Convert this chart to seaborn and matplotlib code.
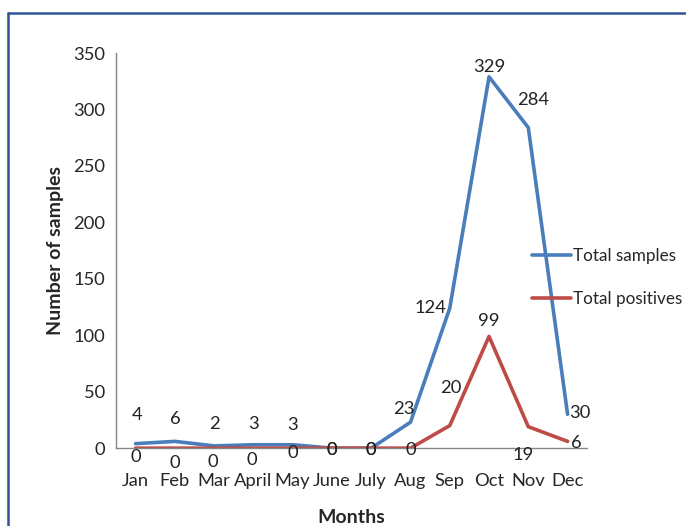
import matplotlib
matplotlib.use('Agg')
import matplotlib.pyplot as plt
import seaborn as sns
import pandas as pd
from matplotlib.lines import Line2D

months = ['Jan', 'Feb', 'Mar', 'April', 'May', 'June', 'July', 'Aug', 'Sep', 'Oct', 'Nov', 'Dec']
total_samples = [4, 6, 2, 3, 3, 0, 0, 23, 124, 329, 284, 30]
total_positives = [0, 0, 0, 0, 0, 0, 0, 0, 20, 99, 19, 6]
yticks = [0, 50, 100, 150, 200, 250, 300, 350]

# label offsets in pixels (dx, dy), copied by eye from the excel chart
samp_off = [(2, 29), (0, 22), (0, 22), (0, 21), (0, 20), (0, -2), (0, -2),
            (-7, 13), (-19, 0), (0, 10), (5, 28), (12, 1)]
pos_off = [(0, -9), (0, -15), (-1, -14), (-2, -12), (0, -5), (0, -2), (0, -2),
           (0, -2), (1, 38), (0, 15), (-5, -28), (9, -2)]

sns.set_style('white')
plt.rcParams['font.family'] = ['Lato', 'DejaVu Sans']
fs = 13.2

df = pd.DataFrame({'Month': months * 2,
                   'Count': total_samples + total_positives,
                   'Series': ['Total samples'] * 12 + ['Total positives'] * 12})

fig = plt.figure(figsize=(6.86, 5.26), dpi=100)
ax = fig.add_axes([0.169, 0.148, 0.687, 0.751])
blue = '#4A7EBB'
red = '#BE4B48'
sns.lineplot(data=df, x='Month', y='Count', hue='Series', palette=[blue, red],
             sort=False, linewidth=2.6, ax=ax)

for i, v in enumerate(total_samples):
    ax.annotate(str(v), (i, v), xytext=samp_off[i], textcoords='offset pixels',
                ha='center', va='center', fontsize=fs, color='#222222')
for i, v in enumerate(total_positives):
    ax.annotate(str(v), (i, v), xytext=pos_off[i], textcoords='offset pixels',
                ha='center', va='center', fontsize=fs, color='#222222')

ax.set_xlim(-0.5, 11.5)
ax.set_ylim(0, 350)
ax.set_yticks(yticks)
ax.set_xticks(range(12))
ax.set_xticklabels(months)
ax.set_xticks([i - 0.5 for i in range(13)], minor=True)
ax.tick_params(axis='x', which='major', length=0, labelsize=fs, pad=18)
ax.tick_params(axis='x', which='minor', length=5, color='#868686', direction='out')
ax.tick_params(axis='y', length=5, color='#868686', direction='out', labelsize=fs, pad=3)
for s in ['top', 'right']:
    ax.spines[s].set_visible(False)
for s in ['left', 'bottom']:
    ax.spines[s].set_color('#868686')
    ax.spines[s].set_linewidth(1)

ax.set_xlabel('Months', fontsize=14, fontweight='bold', labelpad=14)
ax.set_ylabel('Number of samples', fontsize=14, fontweight='bold', labelpad=6)

ax.legend(loc='center left', bbox_to_anchor=(0.765, 0.473), bbox_transform=fig.transFigure,
          frameon=False, fontsize=12.3, handlelength=2.3, handletextpad=0.15,
          labelspacing=1.6, borderaxespad=0)

# outer chart frame
fig.add_artist(Line2D([0.0110, 0.0110], [0.975, 0.0], transform=fig.transFigure,
                      color='#2F5597', linewidth=1.8))
fig.add_artist(Line2D([0.0110, 1.0], [0.975, 0.975], transform=fig.transFigure,
                      color='#2F5597', linewidth=1.8))

fig.savefig('out.png', dpi=100)
